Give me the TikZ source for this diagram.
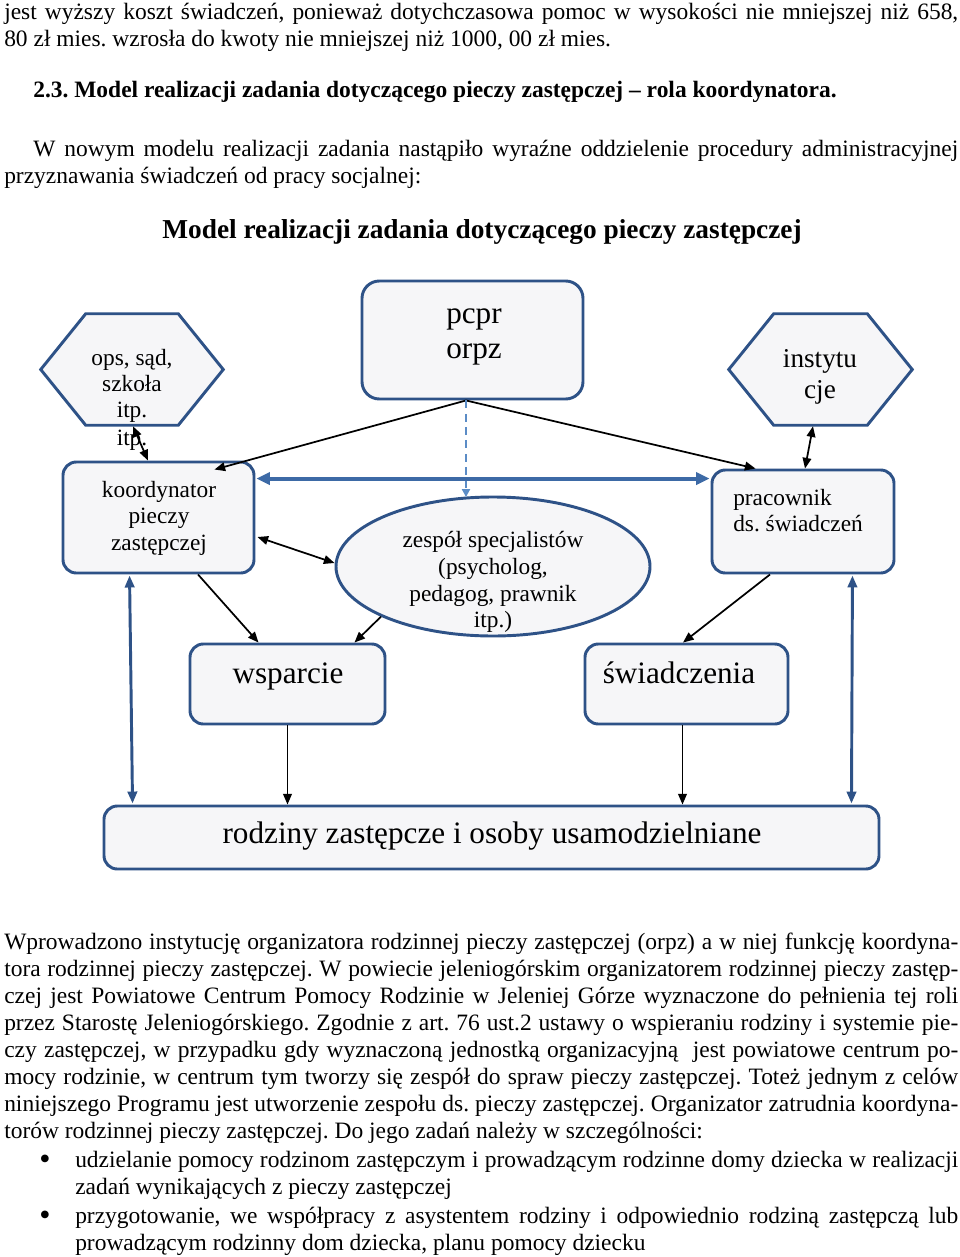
\documentclass[tikz,border=0pt]{standalone}
\usepackage{fontspec}
\setmainfont{Liberation Serif}
\usetikzlibrary{arrows.meta,calc,fit,shapes.geometric}
\newlength\pxu \setlength\pxu{0.75pt}
\definecolor{bordc}{HTML}{2E5287}
\definecolor{fillc}{HTML}{F6F6F8}
\definecolor{bluec}{HTML}{3D6AA6}
\definecolor{dashcol}{HTML}{5B8CC6}
\newcommand\jline[1]{\hbox to 954\pxu{#1}}
\newcommand\bodyfont{\fontsize{17.6}{20.25}\selectfont}
\newcommand\bigbul{\raisebox{-2pt}{\fontsize{24}{24}\selectfont\textbullet}}
\frenchspacing
\begin{document}
\begin{tikzpicture}[x=0.75pt,y=-0.75pt,
  box/.style={draw=bordc, fill=fillc, line width=2.2pt, rounded corners=10pt, inner sep=0pt},
  hexframe/.style={inner sep=0pt},
  hexs/.style={draw=bordc, fill=fillc, line width=2.2pt},
  ells/.style={ellipse, draw=bordc, fill=fillc, line width=2.2pt, inner sep=0pt,
    minimum width={314*0.75pt}, minimum height={139*0.75pt}},
  conn/.style={line width=1.3pt, -{Triangle[length=8pt,width=6.5pt]}},
  conntwo/.style={line width=1.3pt, {Triangle[length=8pt,width=6.5pt]}-{Triangle[length=8pt,width=6.5pt]}},
  bluethick/.style={draw=bluec, line width=3pt, {Triangle[length=10pt,width=9pt]}-{Triangle[length=10pt,width=9pt]}},
  bluev/.style={draw=bordc, line width=2.2pt, {Triangle[length=9pt,width=7pt]}-{Triangle[length=9pt,width=7pt]}},
  dashline/.style={draw=dashcol, line width=1.5pt, dash pattern=on 6pt off 4pt, -{Triangle[length=6pt,width=6pt]}},
  lbl/.style={inner sep=0pt, anchor=base, font=\fontsize{17.5}{20}\selectfont},
  lblL/.style={lbl, anchor=base west},
  lblM/.style={lbl, font=\fontsize{20.4}{24}\selectfont},
  lblB/.style={lbl, font=\fontsize{23.4}{28}\selectfont},
  para/.style={anchor=base west, inner sep=0pt, font=\bodyfont}
]
\fill[white] (0,0) rectangle (960,1257);
\useasboundingbox (0,0) rectangle (960,1257);

% ---------- text above ----------
\node[para] (p1) at (4,19) {\parbox[t]{954\pxu}{%
\jline{jest wyższy koszt świadczeń, ponieważ dotychczasowa pomoc w wysokości nie mniejszej niż 658,}%
\hbox{80 zł mies. wzrosła do kwoty nie mniejszej niż 1000, 00 zł mies.}}};
\node[para, font=\bfseries\bodyfont] (head) at (33,97) {2.3. Model realizacji zadania dotyczącego pieczy zastępczej – rola koordynatora.};
\node[para] (p2) at (4,156) {\parbox[t]{954\pxu}{%
\jline{\hskip29\pxu\relax W nowym modelu realizacji zadania nastąpiło wyraźne oddzielenie procedury administracyjnej}%
\hbox{przyznawania świadczeń od pracy socjalnej:}}};
\node[inner sep=0pt, anchor=base, font=\bfseries\fontsize{20.5}{24}\selectfont] (title) at (482,238) {Model realizacji zadania dotyczącego pieczy zastępczej};

% ---------- diagram shapes ----------
\node[box, rounded corners=13pt, fit={(362,281) (583,399)}] (pcpr) {};
\node[hexframe, fit={(41,314) (223,425)}] (ops) {};
\draw[hexs] (ops.west) -- ($(ops.north west)+(45,0)$) -- ($(ops.north east)+(-45,0)$) -- (ops.east)
  -- ($(ops.south east)+(-45,0)$) -- ($(ops.south west)+(45,0)$) -- cycle;
\node[hexframe, fit={(729,314) (912,425)}] (inst) {};
\draw[hexs] (inst.west) -- ($(inst.north west)+(45,0)$) -- ($(inst.north east)+(-45,0)$) -- (inst.east)
  -- ($(inst.south east)+(-45,0)$) -- ($(inst.south west)+(45,0)$) -- cycle;
\node[box, fit={(63,462) (254,573)}] (koord) {};
\node[box, fit={(712,470) (894,573)}] (prac) {};
\node[ells] (ell) at (493,566.5) {};
\node[box, fit={(190,644) (385,724)}] (wsp) {};
\node[box, fit={(585,644) (788,724)}] (swi) {};
\node[box, fit={(104,806) (879,869)}] (bot) {};

% ---------- labels ----------
\node[lblB, anchor=base west] (tpcpr1) at (446,323) {pcpr};
\node[lblB, anchor=base west] (tpcpr2) at (446,358) {orpz};
\node[lbl] (tops1) at (132,365) {ops, sąd,};
\node[lbl] (tops2) at (132,391) {szkoła};
\node[lbl] (tops3) at (132,417) {itp.};
\node[lbl] (tops4) at (132,445) {itp.};
\node[lblM] (tinst1) at (820,367) {instytu};
\node[lblM] (tinst2) at (820,398) {cje};
\node[lbl] (tk1) at (159,497) {koordynator};
\node[lbl] (tk2) at (159,523) {pieczy};
\node[lbl] (tk3) at (159,550) {zastępczej};
\node[lblL] (tp1) at (733,505) {pracownik};
\node[lblL] (tp2) at (733,531) {ds. świadczeń};
\node[lbl] (te1) at (493,547) {zespół specjalistów};
\node[lbl] (te2) at (493,574) {(psycholog,};
\node[lbl] (te3) at (493,601) {pedagog, prawnik};
\node[lbl] (te4) at (493,627) {itp.)};
\node[lblB] (tw) at (288,683) {wsparcie};
\node[lblB] (ts) at (679,683) {świadczenia};
\node[lblB] (tb) at (492,843) {rodziny zastępcze i osoby usamodzielniane};

% ---------- connectors ----------
\draw[conn] ($(pcpr.south)+(-6.5,0)$) -- ($(koord.north east)+(-41,9)$);
\draw[conn] ($(pcpr.south)+(-6.5,0)$) -- ($(prac.north west)+(45,0)$);
\draw[dashline] ($(pcpr.south)+(-6.5,0)$) -- ($(ell.north)+(-27,1.5)$);
\draw[bluethick] ($(koord.north east)+(1,18)$) -- ($(prac.north west)+(-1,10)$);
\draw[conntwo] ($(ops.south)+(1,1)$) -- ($(koord.north)+(-10.5,0)$);
\draw[conntwo] ($(inst.south)+(-7.5,1)$) -- ($(prac.north)+(2,0)$);
\draw[conntwo] ($(koord.east)+(2,19.5)$) -- ($(ell.west)+(0,-3.5)$);
\draw[conn] ($(koord.south)+(39.5,0)$) -- ($(wsp.north west)+(70,0)$);
\draw[conn] (ell.south west) -- ($(wsp.north east)+(-32,0)$);
\draw[conn] ($(prac.south)+(-33,0)$) -- ($(swi.north)+(-3.5,0)$);
\draw[conn] (wsp.south) -- (wsp.south |- bot.north);
\draw[conn] ($(swi.south)+(-4,0)$) -- ($(swi.south |- bot.north)+(-4,0)$);
\draw[bluev] ($(koord.south west)+(68,1)$) -- ($(bot.north west)+(30,-1)$);
\draw[bluev] ($(prac.south east)+(-43,1)$) -- ($(bot.north east)+(-29,-1)$);

% ---------- text below ----------
\node[para] (p3) at (4,949) {\parbox[t]{954\pxu}{%
\jline{Wprowadzono instytucję organizatora rodzinnej pieczy zastępczej (orpz) a w niej funkcję koordyna-}%
\jline{tora rodzinnej pieczy zastępczej. W powiecie jeleniogórskim organizatorem rodzinnej pieczy zastęp-}%
\jline{czej jest Powiatowe Centrum Pomocy Rodzinie w Jeleniej Górze wyznaczone do pełnienia tej roli}%
\jline{przez Starostę Jeleniogórskiego. Zgodnie z art. 76 ust.2 ustawy o wspieraniu rodziny i systemie pie-}%
\jline{czy zastępczej, w przypadku gdy wyznaczoną jednostką organizacyjną \ jest powiatowe centrum po-}%
\jline{mocy rodzinie, w centrum tym tworzy się zespół do spraw pieczy zastępczej. Toteż jednym z celów}%
\jline{niniejszego Programu jest utworzenie zespołu ds. pieczy zastępczej. Organizator zatrudnia koordyna-}%
\hbox{torów rodzinnej pieczy zastępczej. Do jego zadań należy w szczególności:}}};
\node[para] (p4) at (4,1167) {\parbox[t]{954\pxu}{%
\jline{\hskip35\pxu\relax\hbox to 36\pxu{\bigbul\hss}udzielanie pomocy rodzinom zastępczym i prowadzącym rodzinne domy dziecka w realizacji}%
\hbox{\hskip71\pxu\relax zadań wynikających z pieczy zastępczej}%
\vskip2\pxu
\jline{\hskip35\pxu\relax\hbox to 36\pxu{\bigbul\hss}przygotowanie, we współpracy z asystentem rodziny i odpowiednio rodziną zastępczą lub}%
\hbox{\hskip71\pxu\relax prowadzącym rodzinny dom dziecka, planu pomocy dziecku}}};
\end{tikzpicture}
\end{document}
